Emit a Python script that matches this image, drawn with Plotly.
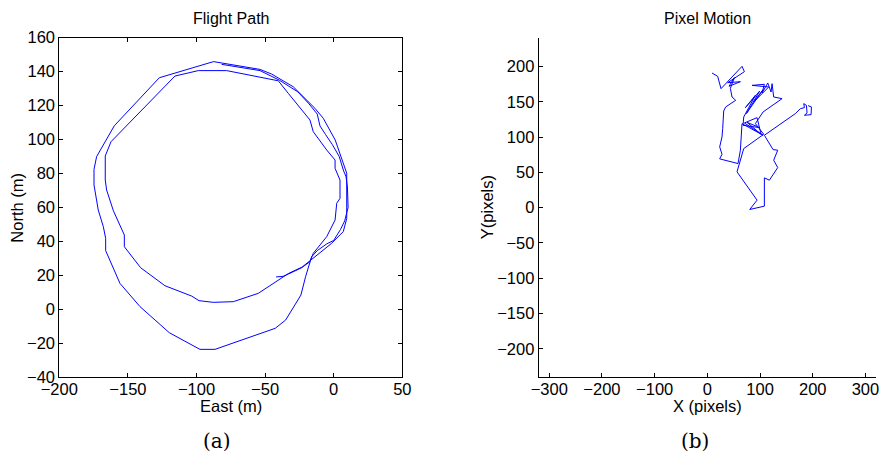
import plotly.graph_objects as go

# ---------------- data ----------------
# Flight path (East, North in metres)
east = [-42.0, -37.0, -33.0, -23.4, -17.3,
        -14.9, -5.1, 1.0, 2.2, 4.6, 4.6, 1.0, 1.0, -5.1, -14.9, -17.3, -33.1, -40.4, -78.0, -98.7,
        -115.7, -162.3, -166.5, -166.5, -165.5, -160.6, -152.6, -152.6, -140.7, -123.0, -103.5, -98.2,
        -87.8, -73.2, -55.0, -42.0, -33.0, -23.0, -17.3,
        -10.0, -1.5, 7.0, 9.5, 9.5, 1.1, -7.6, -13.7, -29.5, -45.3, -53.7, -87.6,
        -127.1, -159.9, -172.8, -174.7, -174.7, -171.6, -167.9, -166.2, -166.2, -155.8, -141.2,
        -119.8, -97.5, -86.5, -42.6, -35.0, -23.9, -20.5, -16.1,
        -12.0, -5.0, 0.0, 5.0, 8.0, 10.5, 10.0, 9.0, 7.0, 4.0, -1.0, -6.0, -10.0, -12.0, -18.0,
        -26.0, -39.7, -53.7, -81.7]
north = [19.0, 19.3, 20.7, 24.4, 28.0,
         32.9, 42.7, 52.5, 62.4, 65.3, 76.1, 83.0, 87.9, 93.8, 104.6, 111.5, 127.2, 134.6, 140.6, 140.6,
         137.4, 98.7, 90.3, 76.1, 70.2, 58.0, 43.7, 36.8, 24.4, 13.8, 7.7, 5.0,
         4.0, 4.4, 9.3, 16.0, 21.0, 24.8, 28.5,
         33.0, 38.8, 45.7, 53.5, 80.1, 99.7, 112.5, 118.4, 131.1, 138.6, 141.3, 145.9,
         136.4, 108.1, 89.9, 82.4, 73.2, 58.4, 48.6, 41.7, 34.5, 15.2, 1.5,
         -13.9, -23.7, -23.7, -11.3, -6.4, 8.3, 19.1, 30.9,
         34.5, 38.5, 40.5, 47.0, 52.0, 60.0, 72.0, 78.0, 82.0, 90.0, 97.0, 103.0, 108.0, 115.0, 121.0,
         128.0, 135.0, 140.6, 144.3]

# Pixel motion (X, Y in pixels)
pix_x = [8.9, 19.6, 25.9, 65.8, 70.3, 38.6, 62.7, 41.1, 51.3, 43.7, 46.8, 53.8, 34.8, 31.0,
         29.1, 27.8, 23.4, 27.8, 23.4, 58.2, 62.7, 65.8,
         105.7, 70.3, 94.3, 101.9, 75.3, 99.4, 67.7,
         69.0, 91.1, 72.2, 99.4, 74.1, 105.7, 88.0, 116.5, 84.8, 108.2, 103.8, 114.6, 120.9,
         122.8, 125.9, 141.8, 105.7, 91.1, 107.0,
         69.0, 58.2, 56.3, 94.3, 80.4, 108.2, 108.2, 117.7, 133.5, 125.9, 133.5, 124.7, 108.2,
         167.1, 176.6, 184.2, 182.9, 188.0, 189.2, 184.2, 196.8, 197.5, 191.1]
pix_y = [190.8, 186.1, 168.6, 200.2, 192.7, 177.1, 178.5, 172.0, 184.2, 169.1, 156.8, 152.1, 142.7, 137.0,
         112.0, 100.2, 86.1, 75.7, 69.1, 62.5, 81.4, 119.1,
         102.6, 120.0, 127.6, 104.0, 120.9, 113.4, 116.7,
         128.5, 159.2, 141.7, 165.3, 133.3, 167.2, 149.8, 171.0, 173.3, 174.8, 162.5, 176.7, 163.9,
         175.7, 156.8, 154.5, 135.6, 119.1, 104.0,
         83.7, 57.8, 50.7, 10.6, -2.6, 2.1, 42.2, 38.9, 56.8, 67.2, 81.4, 82.3, 102.6,
         133.3, 140.3, 141.7, 147.4, 145.0, 134.2, 130.9, 131.8, 142.7, 144.6]

flight_xticks = [-200, -150, -100, -50, 0, 50]
flight_yticks = [-40, -20, 0, 20, 40, 60, 80, 100, 120, 140, 160]
pixel_xticks = [-300, -200, -100, 0, 100, 200, 300]
pixel_yticks = [-200, -150, -100, -50, 0, 50, 100, 150, 200]

W, H = 881, 460
FONT = "Liberation Sans, Arial, sans-serif"
BLUE = "#0000ff"

fig = go.Figure()
fig.add_trace(go.Scatter(x=east, y=north, mode="lines",
                         line=dict(color=BLUE, width=1), xaxis="x", yaxis="y",
                         showlegend=False, hoverinfo="skip"))
fig.add_trace(go.Scatter(x=pix_x, y=pix_y, mode="lines",
                         line=dict(color=BLUE, width=1), xaxis="x2", yaxis="y2",
                         showlegend=False, hoverinfo="skip"))

axis_common = dict(ticks="inside", ticklen=4, tickwidth=1, tickcolor="black",
                   showline=True, linecolor="black", linewidth=1,
                   showgrid=False, zeroline=False, automargin=False,
                   tickfont=dict(family=FONT, size=16.5, color="black"))

fig.update_layout(
    width=W, height=H,
    margin=dict(l=0, r=0, t=0, b=0, pad=0),
    paper_bgcolor="white", plot_bgcolor="white",
    xaxis=dict(domain=[59.3 / W, 402.3 / W], range=[-200, 50], tickvals=flight_xticks,
               mirror="ticks", anchor="y", ticklabelstandoff=-3, **axis_common),
    yaxis=dict(domain=[(H - 377) / H, (H - 37.7) / H], range=[-40, 160], tickvals=flight_yticks,
               mirror="ticks", anchor="x", **axis_common),
    xaxis2=dict(domain=[538.7 / W, 876 / W], range=[-320, 320], tickvals=pixel_xticks,
                anchor="y2", ticklabelstandoff=-3, **axis_common),
    yaxis2=dict(domain=[(H - 377) / H, (H - 38.3) / H], range=[-240, 240], tickvals=pixel_yticks,
                anchor="x2", **axis_common),
)

def label(text, x, y, size=16.5, angle=0, family=FONT):
    fig.add_annotation(text=text, x=x / W, y=1 - y / H, xref="paper", yref="paper",
                       showarrow=False, xanchor="center", yanchor="middle", textangle=angle,
                       font=dict(family=family, size=size, color="black"))

label("Flight Path", 230.8, 19, size=16)
label("Pixel Motion", 707, 19, size=16)
label("East (m)", 230.5, 406)
label("X (pixels)", 707, 406)
label("North (m)", 16.7, 208, angle=-90)
label("Y(pixels)", 486.7, 207.5, angle=-90)
label("(a)", 217, 441, size=20, family="DejaVu Serif, serif")
label("(b)", 695, 441, size=20, family="DejaVu Serif, serif")

fig.write_html("out.html")
